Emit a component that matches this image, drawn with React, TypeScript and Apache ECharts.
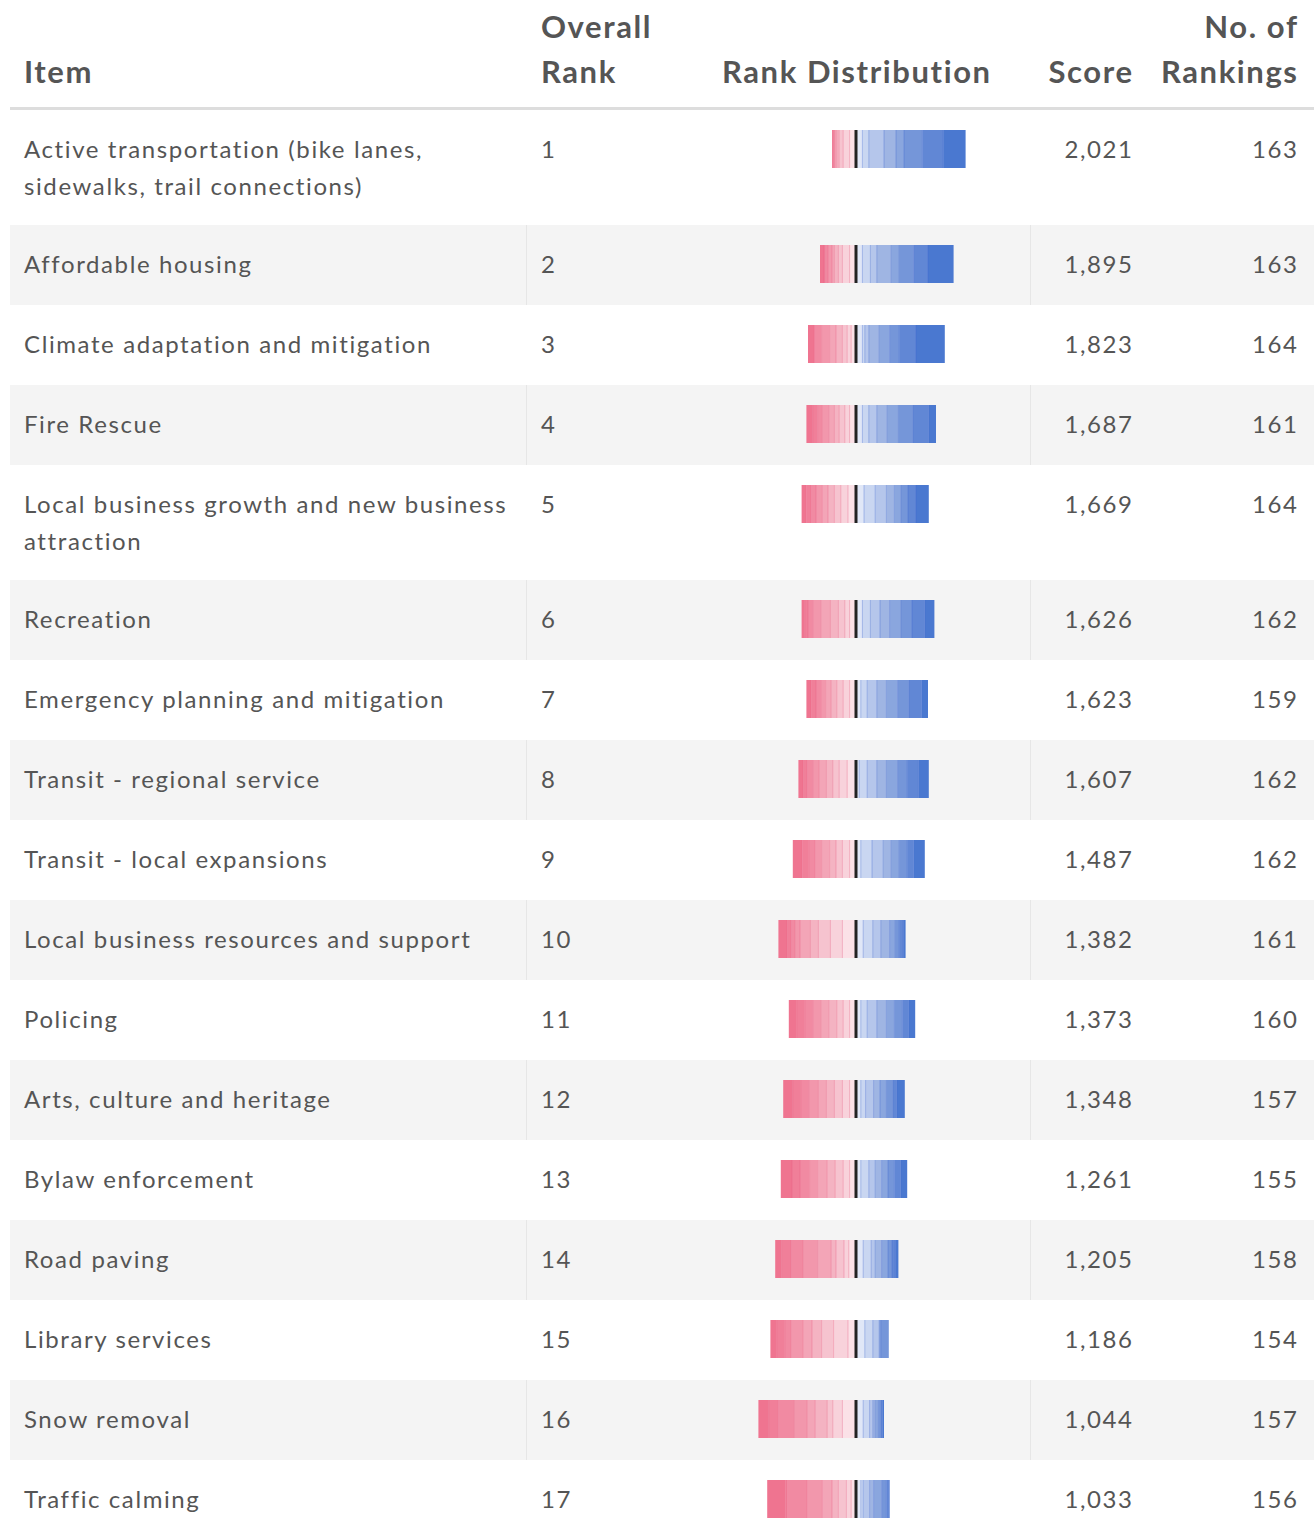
import React, { useEffect, useRef } from "react";
import * as echarts from "echarts";

// ---------- DATA ----------
const items = [
  "Active transportation (bike lanes, sidewalks, trail connections)",
  "Affordable housing",
  "Climate adaptation and mitigation",
  "Fire Rescue",
  "Local business growth and new business attraction",
  "Recreation",
  "Emergency planning and mitigation",
  "Transit - regional service",
  "Transit - local expansions",
  "Local business resources and support",
  "Policing",
  "Arts, culture and heritage",
  "Bylaw enforcement",
  "Road paving",
  "Library services",
  "Snow removal",
  "Traffic calming",
];
const overallRank = [1, 2, 3, 4, 5, 6, 7, 8, 9, 10, 11, 12, 13, 14, 15, 16, 17];
const scores = [2021, 1895, 1823, 1687, 1669, 1626, 1623, 1607, 1487, 1382, 1373, 1348, 1261, 1205, 1186, 1044, 1033];
const rankingCounts = [163, 163, 164, 161, 164, 162, 159, 162, 162, 161, 160, 157, 155, 158, 154, 157, 156];

// number of respondents giving each rank 1..17, per item
const distActiveTransportation = [28, 26, 23, 10, 15, 19, 8, 8, 8, 8, 5, 3, 2, 1, 1, 1, 1];
const distAffordableHousing = [32, 18, 18, 10, 18, 8, 10, 8, 8, 9, 5, 5, 3, 5, 3, 2, 5];
const distClimate = [36, 21, 12, 13, 13, 5, 3, 8, 6, 5, 6, 8, 8, 10, 8, 1, 8];
const distFireRescue = [9, 20, 18, 14, 13, 10, 8, 8, 8, 6, 7, 6, 7, 8, 6, 6, 8];
const distBusinessGrowth = [16, 10, 9, 8, 10, 14, 14, 10, 10, 9, 8, 8, 7, 8, 6, 6, 6];
const distRecreation = [12, 16, 14, 14, 12, 12, 10, 8, 8, 6, 8, 10, 12, 10, 6, 4, 4];
const distEmergency = [8, 16, 14, 14, 12, 12, 8, 6, 8, 8, 8, 7, 7, 6, 6, 6, 6];
const distTransitRegional = [13, 14, 12, 14, 12, 12, 10, 4, 11, 10, 8, 8, 9, 8, 7, 5, 6];
const distTransitLocal = [14, 8, 10, 10, 10, 14, 14, 6, 8, 9, 8, 8, 10, 8, 8, 8, 12];
const distBusinessSupport = [3, 5, 5, 7, 11, 10, 12, 9, 17, 15, 15, 10, 13, 6, 5, 5, 11];
const distPolicing = [8, 8, 10, 10, 12, 12, 8, 6, 8, 8, 8, 10, 10, 10, 10, 10, 10];
const distArts = [10, 5, 8, 8, 8, 10, 6, 6, 8, 9, 10, 10, 10, 12, 10, 10, 12];
const distBylaw = [8, 8, 8, 8, 8, 8, 10, 6, 8, 8, 10, 10, 12, 10, 12, 10, 14];
const distRoadPaving = [4, 4, 5, 8, 8, 5, 10, 9, 9, 6, 10, 6, 17, 18, 15, 12, 8];
const distLibrary = [0, 0, 10, 1, 1, 8, 10, 11, 10, 18, 15, 12, 11, 15, 8, 10, 8];
const distSnow = [2, 2, 3, 4, 3, 4, 8, 9, 17, 12, 7, 15, 10, 16, 20, 12, 13];
const distTrafficCalming = [1, 3, 6, 10, 5, 8, 3, 6, 6, 6, 10, 8, 12, 19, 25, 2, 23];

const distributions = [
  distActiveTransportation, distAffordableHousing, distClimate, distFireRescue,
  distBusinessGrowth, distRecreation, distEmergency, distTransitRegional,
  distTransitLocal, distBusinessSupport, distPolicing, distArts, distBylaw,
  distRoadPaving, distLibrary, distSnow, distTrafficCalming,
];

const headers = { item: "Item", rank: "Overall\nRank", dist: "Rank Distribution", score: "Score", count: "No. of\nRankings" };

// ---------- STYLE ----------
const rankColors = [
  "#4a78d0", "#6187d5", "#7596d9", "#8aa6de", "#9fb5e3", "#b5c6eb", "#c9d6f1", "#e0e7f7",
  "#fbe1e7", "#f8d2db", "#f6c3cf", "#f4b3c2", "#f3a5b7", "#f297ac", "#f18aa2", "#f07f99", "#ef7490",
];
const W = 1314;
const H = 1534;
const TABLE_TOP = 110;
const ROW_H = 80;
const LINE_H = 37;
const TEXT_COLOR = "#555555";
const FONT = "Lato";
const LETTER_SPACING = 1.6;
const CENTER_X = 856;
const PX_PER_UNIT = 0.8;
const X_HALF = 150;
const WRAP_WIDTH = 500;

export default function App() {
  const ref = useRef<HTMLDivElement>(null);

  useEffect(() => {
    const chart = echarts.init(ref.current!, null, { renderer: "svg" });

    // wrap item names into lines (with letter spacing)
    const canvas = document.createElement("canvas");
    const ctx = canvas.getContext("2d")! as any;
    ctx.font = `24px ${FONT}`;
    try {
      ctx.letterSpacing = `${LETTER_SPACING}px`;
    } catch (e) {}
    const wrapped = items.map((t) => {
      const words = t.split(" ");
      const lines: string[] = [];
      let cur = "";
      words.forEach((w) => {
        const test = cur ? cur + " " + w : w;
        if (cur && ctx.measureText(test).width > WRAP_WIDTH) {
          lines.push(cur);
          cur = w;
        } else cur = test;
      });
      lines.push(cur);
      return lines;
    });
    const rowHeights = wrapped.map((l) => ROW_H + (l.length - 1) * 35);
    const rowTops: number[] = [];
    let acc = TABLE_TOP;
    rowHeights.forEach((h) => {
      rowTops.push(acc);
      acc += h;
    });

    // segments
    const segData: number[][] = [];
    distributions.forEach((d, i) => {
      const rel = rowTops[i] - TABLE_TOP;
      let cum = 0;
      for (let r = 8; r >= 1; r--) {
        const v = d[r - 1];
        segData.push([cum, cum + v, rel, r]);
        cum += v;
      }
      cum = 0;
      for (let r = 9; r <= 17; r++) {
        const v = d[r - 1];
        segData.push([-cum, -(cum + v), rel, r]);
        cum += v;
      }
    });
    const centerData = rowTops.map((t) => [0, t - TABLE_TOP]);

    const graphics: any[] = [];
    rowTops.forEach((t, i) => {
      if (i % 2 === 1) {
        graphics.push({ type: "rect", z: -10, shape: { x: 10, y: t, width: W - 10, height: rowHeights[i] }, style: { fill: "#f4f4f4" } });
        graphics.push({ type: "rect", z: -9, shape: { x: 526, y: t, width: 1, height: rowHeights[i] }, style: { fill: "#e6e6e6" } });
        graphics.push({ type: "rect", z: -9, shape: { x: 1030, y: t, width: 1, height: rowHeights[i] }, style: { fill: "#e6e6e6" } });
      }
    });
    graphics.push({ type: "rect", z: -8, shape: { x: 10, y: 107, width: W - 10, height: 3 }, style: { fill: "#dddddd" } });

    const sp = LETTER_SPACING;
    const headFont = { fontFamily: FONT, fontSize: 31, fontWeight: "bold", fill: TEXT_COLOR, lineHeight: 45 };
    graphics.push({ type: "text", x: 24, y: 71, style: { ...headFont, text: headers.item, textAlign: "left", textVerticalAlign: "middle" } });
    graphics.push({ type: "text", x: 541, y: 93.5, style: { ...headFont, text: headers.rank, textAlign: "left", textVerticalAlign: "bottom" } });
    graphics.push({ type: "text", x: CENTER_X + sp / 2, y: 71, style: { ...headFont, text: headers.dist, textAlign: "center", textVerticalAlign: "middle" } });
    graphics.push({ type: "text", x: 1132 + sp, y: 71, style: { ...headFont, text: headers.score, textAlign: "right", textVerticalAlign: "middle" } });
    graphics.push({ type: "text", x: 1297 + sp, y: 93.5, style: { ...headFont, text: headers.count, textAlign: "right", textVerticalAlign: "bottom" } });

    const bodyFont = { fontFamily: FONT, fontSize: 24, fill: TEXT_COLOR, lineHeight: LINE_H };
    rowTops.forEach((t, i) => {
      const y0 = t + 38 - LINE_H / 2;
      graphics.push({ type: "text", x: 24, y: y0, style: { ...bodyFont, text: wrapped[i].join("\n"), textAlign: "left", textVerticalAlign: "top" } });
      graphics.push({ type: "text", x: 541, y: y0, style: { ...bodyFont, text: String(overallRank[i]), textAlign: "left", textVerticalAlign: "top" } });
      graphics.push({ type: "text", x: 1132 + sp, y: y0, style: { ...bodyFont, text: scores[i].toLocaleString("en-US"), textAlign: "right", textVerticalAlign: "top" } });
      graphics.push({ type: "text", x: 1297 + sp, y: y0, style: { ...bodyFont, text: String(rankingCounts[i]), textAlign: "right", textVerticalAlign: "top" } });
    });

    const gridWidth = 2 * X_HALF * PX_PER_UNIT;
    const option: any = {
      animation: false,
      backgroundColor: "#ffffff",
      grid: { left: CENTER_X - gridWidth / 2, width: gridWidth, top: TABLE_TOP, height: H - TABLE_TOP },
      xAxis: { type: "value", min: -X_HALF, max: X_HALF, show: false },
      yAxis: { type: "value", min: 0, max: H - TABLE_TOP, inverse: true, show: false },
      graphic: graphics,
      series: [
        {
          type: "custom",
          z: 2,
          data: segData,
          renderItem: (params: any, api: any) => {
            const s = api.value(0);
            const e = api.value(1);
            const top = api.value(2);
            const rank = api.value(3);
            if (s === e) return null;
            const p0 = api.coord([s, top + 20]);
            const p1 = api.coord([e, top + 58]);
            const x = Math.min(p0[0], p1[0]);
            const w = Math.abs(p1[0] - p0[0]);
            const y = p0[1];
            const h = p1[1] - p0[1];
            const border = rank <= 8 ? "rgba(60,100,205,0.35)" : "rgba(232,90,125,0.35)";
            return {
              type: "group",
              children: [
                { type: "rect", shape: { x, y, width: w, height: h }, style: { fill: rankColors[rank - 1] } },
                { type: "line", shape: { x1: p0[0], y1: y, x2: p0[0], y2: y + h }, style: { stroke: border, lineWidth: 1 } },
              ],
            };
          },
        },
        {
          type: "custom",
          z: 3,
          data: centerData,
          renderItem: (params: any, api: any) => {
            const top = api.value(1);
            const p0 = api.coord([0, top + 20]);
            const p1 = api.coord([0, top + 58]);
            return { type: "rect", shape: { x: p0[0] - 1.5, y: p0[1], width: 3, height: p1[1] - p0[1] }, style: { fill: "#222222" } };
          },
        },
      ],
    };
    chart.setOption(option);
    return () => chart.dispose();
  }, []);

  return (
    <>
      <style>{`svg text { letter-spacing: ${LETTER_SPACING}px; }`}</style>
      <div ref={ref} style={{ position: "absolute", left: 0, top: 0, width: W, height: H }} />
    </>
  );
}
